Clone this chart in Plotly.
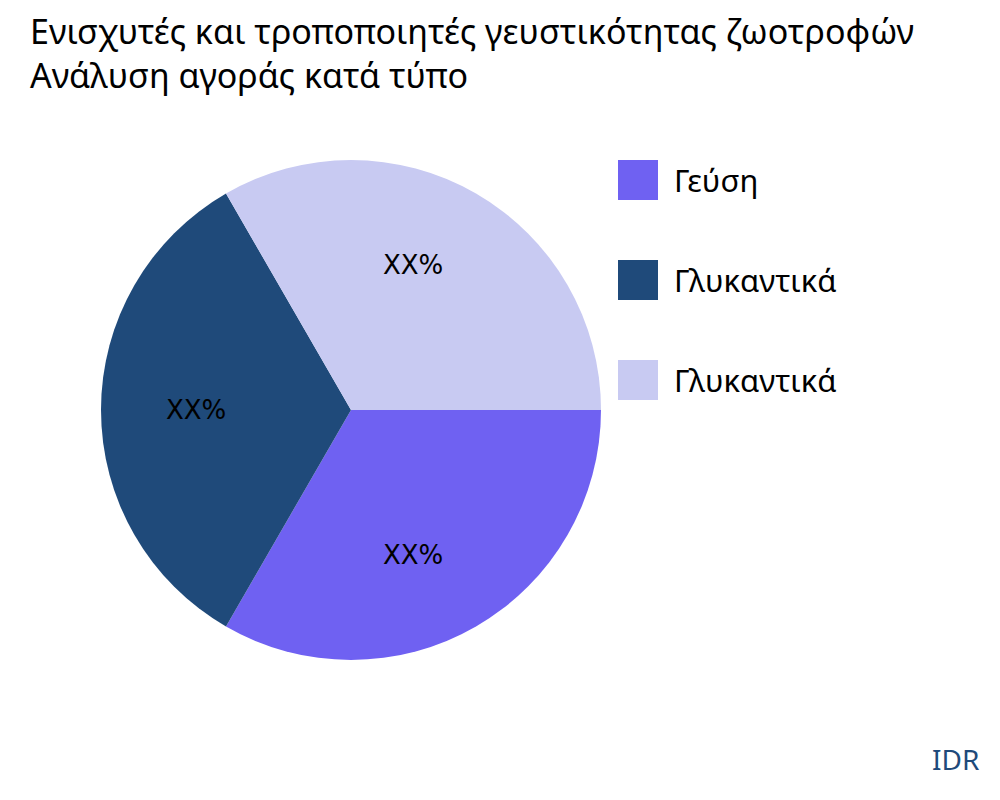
import math
import plotly.graph_objects as go

labels = ["Γεύση", "Γλυκαντικά", "Γλυκαντικά "]
values = [1, 1, 1]
texts = ["XX%", "XX%", "XX%"]
colors = ["#6f61f2", "#1f4a7a", "#c8caf2"]

fig = go.Figure(go.Pie(
    labels=labels, values=values, textinfo="none",
    marker=dict(colors=colors), sort=False, direction="clockwise", rotation=90,
    hoverinfo="skip", showlegend=False,
))

annotations = []
shapes = []
total = sum(values)
start = 0.0
for i, v in enumerate(values):
    mid = start - 360 * v / total / 2
    start -= 360 * v / total
    a = math.radians(mid)
    annotations.append(dict(text=texts[i], x=0.5 + 0.5 * 0.75 * math.cos(a), y=0.5 + 0.5 * 0.75 * math.sin(a),
                            xref="paper", yref="paper", showarrow=False,
                            font=dict(family="DejaVu Sans", size=26, color="black")))
    yc = 1.0 - 0.2 * i - 0.04
    shapes.append(dict(type="rect", xref="paper", yref="paper", x0=1.034, x1=1.114,
                       y0=yc - 0.04, y1=yc + 0.04, fillcolor=colors[i], line=dict(width=0)))
    annotations.append(dict(text=labels[i].strip(), x=1.142, y=yc, xref="paper", yref="paper",
                            xanchor="left", yanchor="middle", showarrow=False,
                            font=dict(size=31, color="black")))

annotations.append(dict(text="IDR", x=1.76, y=-0.24, xref="paper", yref="paper",
                        xanchor="right", yanchor="bottom", showarrow=False,
                        font=dict(size=28, color="#1f4a7a")))

fig.update_layout(
    width=1000, height=800,
    font=dict(family="Noto Sans"),
    title=dict(text="Ενισχυτές και τροποποιητές γευστικότητας ζωοτροφών<br>Ανάλυση αγοράς κατά τύπο",
               x=0.022, xanchor="left", y=0.955, yanchor="top", font=dict(size=34, color="black")),
    margin=dict(l=93, r=407, t=152, b=148),
    paper_bgcolor="white",
    shapes=shapes,
    annotations=annotations,
)
fig.write_html("out.html")
